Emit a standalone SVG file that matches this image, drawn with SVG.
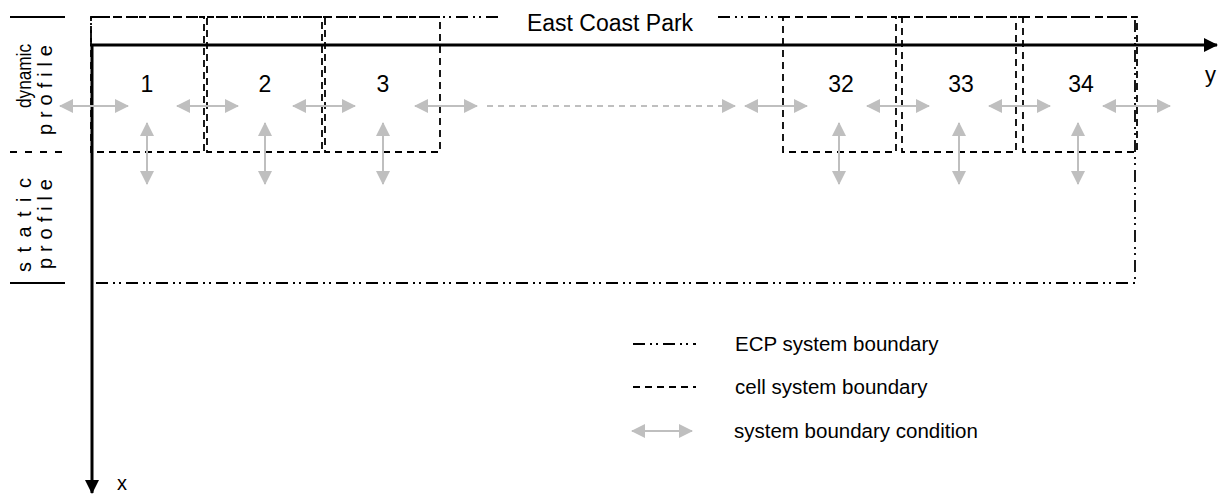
<svg xmlns="http://www.w3.org/2000/svg" width="1218" height="494" viewBox="0 0 1218 494">
  <style>
    text { font-family: "Liberation Sans", Arial, sans-serif; fill: #000; }
    .num { font-size: 23px; text-anchor: middle; }
    .side { font-size: 20px; text-anchor: middle; }
    .leg { font-size: 20.5px; }
    .ecp { fill: none; stroke: #000; stroke-width: 1.8; stroke-dasharray: 12 5 2 4 2 5; }
    .cell { fill: none; stroke: #000; stroke-width: 1.8; stroke-dasharray: 7 5; }
    .mark { stroke: #000; stroke-width: 1.8; }
    .axis { stroke: #000; stroke-width: 3; fill: none; }
    .bc { stroke: #bfbfbf; stroke-width: 2; fill: none; marker-start: url(#bcHead); marker-end: url(#bcHead); }
    .bcd { stroke: #bfbfbf; stroke-width: 2; fill: none; stroke-dasharray: 6 5; marker-end: url(#bcHead); }
  </style>
  <defs>
    <marker id="bcHead" viewBox="0 0 14 14" refX="13" refY="7" markerWidth="14" markerHeight="14" markerUnits="userSpaceOnUse" orient="auto-start-reverse">
      <path d="M0,0 L14,7 L0,14 Z" fill="#bfbfbf"/>
    </marker>
    <marker id="axHead" viewBox="0 0 14 14" refX="13" refY="7" markerWidth="14" markerHeight="14" markerUnits="userSpaceOnUse" orient="auto">
      <path d="M0,0 L14,7 L0,14 Z" fill="#000"/>
    </marker>
  </defs>

  <!-- side profile labels -->
  <g id="profile-labels">
    <line class="mark" x1="10" y1="17" x2="65" y2="17"/>
    <line class="mark" x1="10" y1="152" x2="65" y2="152" stroke-dasharray="7 8"/>
    <line class="mark" x1="10" y1="283" x2="65" y2="283"/>
    <text class="side" transform="translate(31,76) rotate(-90)" textLength="64" lengthAdjust="spacingAndGlyphs">dynamic</text>
    <text class="side" transform="translate(52,90) rotate(-90)" textLength="90">profile</text>
    <text class="side" transform="translate(31,225) rotate(-90)" textLength="94">static</text>
    <text class="side" transform="translate(52,224) rotate(-90)" textLength="90">profile</text>
  </g>

  <!-- East Coast Park system boundary -->
  <g id="ecp-boundary">
    <path class="ecp" d="M498,17 L91,17 L91,45"/>
    <path class="ecp" d="M718,17 L1135,17 L1135,283 L91,283"/>
    <text x="610" y="31" font-size="23" text-anchor="middle">East Coast Park</text>
  </g>

  <!-- cells -->
  <g id="cell-1">
    <rect class="cell" x="91" y="17" width="113" height="135"/>
    <text class="num" x="147" y="92">1</text>
  </g>
  <g id="cell-2">
    <rect class="cell" x="207" y="17" width="115" height="135"/>
    <text class="num" x="265" y="92">2</text>
  </g>
  <g id="cell-3">
    <rect class="cell" x="325" y="17" width="115" height="135"/>
    <text class="num" x="383" y="92">3</text>
  </g>
  <g id="cell-32">
    <rect class="cell" x="783" y="17" width="113" height="135"/>
    <text class="num" x="841" y="92">32</text>
  </g>
  <g id="cell-33">
    <rect class="cell" x="902" y="17" width="114" height="135"/>
    <text class="num" x="961" y="92">33</text>
  </g>
  <g id="cell-34">
    <rect class="cell" x="1023" y="17" width="114" height="135"/>
    <text class="num" x="1081" y="92">34</text>
  </g>

  <!-- axes -->
  <g id="axes">
    <line class="axis" x1="90" y1="45" x2="1217" y2="45" marker-end="url(#axHead)"/>
    <line class="axis" x1="92" y1="45" x2="92" y2="493" stroke-width="4" marker-end="url(#axHead)"/>
    <text x="1205" y="82" font-size="22">y</text>
    <text x="117" y="490" font-size="20">x</text>
  </g>

  <!-- boundary conditions -->
  <g id="connectors">
    <line class="bc" x1="60" y1="106" x2="128" y2="106"/>
    <line class="bc" x1="177" y1="106" x2="238" y2="106"/>
    <line class="bc" x1="293" y1="106" x2="355" y2="106"/>
    <line class="bc" x1="415" y1="106" x2="477" y2="106"/>
    <line class="bcd" x1="487" y1="106" x2="735" y2="106"/>
    <line class="bc" x1="745" y1="106" x2="807" y2="106"/>
    <line class="bc" x1="867" y1="106" x2="929" y2="106"/>
    <line class="bc" x1="989" y1="106" x2="1050" y2="106"/>
    <line class="bc" x1="1103" y1="106" x2="1170" y2="106"/>

    <line class="bc" x1="147" y1="123" x2="147" y2="184"/>
    <line class="bc" x1="265" y1="123" x2="265" y2="184"/>
    <line class="bc" x1="383" y1="123" x2="383" y2="184"/>
    <line class="bc" x1="839" y1="123" x2="839" y2="184"/>
    <line class="bc" x1="959" y1="123" x2="959" y2="184"/>
    <line class="bc" x1="1078" y1="123" x2="1078" y2="184"/>
  </g>

  <!-- legend -->
  <g id="legend">
    <line class="ecp" x1="633" y1="344" x2="696" y2="344"/>
    <text class="leg" x="735" y="351">ECP system boundary</text>
    <line class="cell" x1="633" y1="387" x2="696" y2="387"/>
    <text class="leg" x="735" y="394">cell system boundary</text>
    <line class="bc" x1="632" y1="431" x2="692" y2="431"/>
    <text class="leg" x="734" y="438">system boundary condition</text>
  </g>
</svg>
